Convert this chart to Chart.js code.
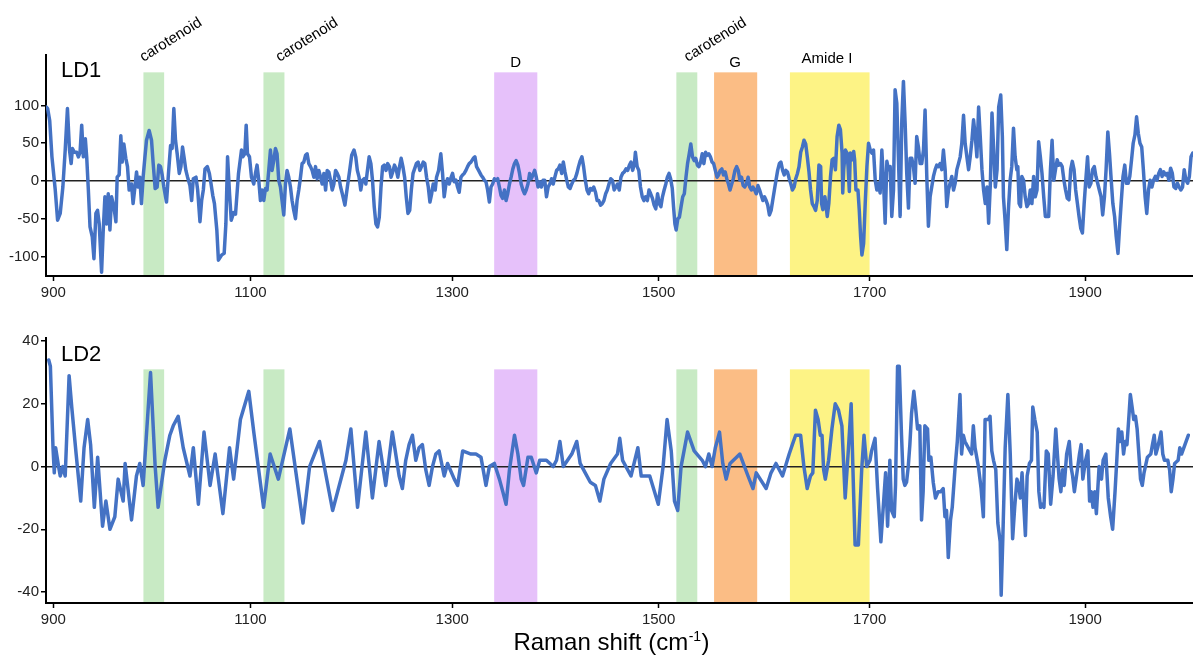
<!DOCTYPE html>
<html lang="en">
<head>
    <meta charset="UTF-8">
    <title>LD1 / LD2 loadings</title>
    <script src="https://cdn.jsdelivr.net/npm/chart.js"></script>
    <style>
        body { margin: 0; background: #fff; }
        .panel { position: absolute; left: 0; width: 1193px; }
        #ld1-panel { top: 0; height: 300px; }
        #ld2-panel { top: 300px; height: 357px; }
    </style>
</head>
<body>
    <div class="panel" id="ld1-panel"><canvas id="ld1-chart" width="1193" height="300"></canvas></div>
    <div class="panel" id="ld2-panel"><canvas id="ld2-chart" width="1193" height="357"></canvas></div>

    <script>
        // Raman shift (cm-1) / loading pairs
        const ld1Points = [[892.9,98],[894.2,96],[896.3,80],[898.6,32],[902.0,-12],[904.4,-52],[907.1,-43],[909.8,-8],[912.2,41],[914.5,96],[916.6,41],[918.3,23],[919.6,43],[921.7,38],[924.0,38],[925.7,32],[927.4,38],[929.1,74],[930.8,32],[932.8,56],[934.2,32],[935.9,-12],[937.6,-61],[939.9,-74],[941.6,-103],[943.6,-43],[945.3,-39],[947.0,-57],[949.4,-121],[951.1,-65],[952.8,-21],[954.5,-57],[956.2,-17],[957.9,-65],[959.6,-21],[961.9,-34],[964.0,-54],[965.3,5],[967.3,8],[969.0,60],[970.4,25],[972.1,49],[974.1,30],[975.8,19],[977.5,-12],[979.9,-4],[981.5,-30],[983.2,-10],[985.0,12],[986.6,-8],[988.3,5],[990.0,-30],[991.7,5],[993.4,30],[995.1,54],[997.8,67],[1000.2,54],[1001.9,23],[1003.9,-10],[1005.9,-8],[1007.6,21],[1009.3,19],[1011.0,8],[1012.7,-8],[1015.4,-28],[1017.4,10],[1019.5,47],[1021.1,43],[1022.8,96],[1024.5,54],[1026.2,36],[1028.3,10],[1030.0,19],[1031.6,45],[1033.3,30],[1035.0,14],[1036.7,5],[1039.1,-6],[1040.8,-26],[1042.5,3],[1045.2,5],[1046.9,-12],[1049.2,-54],[1050.9,-26],[1052.6,-12],[1054.3,16],[1056.7,19],[1058.7,10],[1060.4,-4],[1062.1,-19],[1063.8,-30],[1066.2,-65],[1067.8,-105],[1071.2,-98],[1073.6,-96],[1075.3,-57],[1077.0,32],[1079.0,-17],[1080.7,-52],[1083.1,-42],[1085.0,-44],[1088.0,10],[1091.0,41],[1092.3,32],[1094.3,36],[1095.7,74],[1097.0,36],[1099.0,32],[1101.0,5],[1103.3,-4],[1105.0,10],[1106.6,21],[1108.3,1],[1110.0,-26],[1111.6,-12],[1113.3,-26],[1115.0,-10],[1116.6,-12],[1118.3,14],[1120.0,41],[1121.6,14],[1123.3,27],[1125.0,43],[1126.6,36],[1128.3,1],[1130.0,-8],[1131.6,-26],[1133.3,-45],[1135.0,-4],[1136.6,14],[1138.3,5],[1140.0,-8],[1141.6,-26],[1143.3,-39],[1145.0,-50],[1146.6,-26],[1148.3,-12],[1150.0,5],[1151.6,23],[1153.3,25],[1155.0,34],[1156.6,36],[1158.3,23],[1160.0,19],[1161.6,14],[1163.3,5],[1165.0,19],[1166.6,3],[1168.3,14],[1170.0,5],[1171.6,-4],[1173.3,10],[1175.0,-12],[1176.6,14],[1178.2,12],[1179.9,1],[1181.6,-12],[1183.2,-4],[1184.9,14],[1186.6,10],[1188.2,5],[1189.9,-8],[1191.6,-17],[1194.2,-32],[1196.6,-8],[1198.9,14],[1200.9,34],[1203.2,41],[1204.9,32],[1206.5,14],[1208.2,5],[1209.9,-12],[1211.5,1],[1213.2,3],[1214.9,-4],[1216.5,14],[1218.2,32],[1219.9,23],[1221.5,1],[1223.2,-34],[1224.9,-57],[1226.5,-61],[1228.2,-48],[1229.9,-8],[1231.5,19],[1233.2,21],[1234.9,14],[1236.5,23],[1238.2,19],[1239.8,5],[1241.5,12],[1243.2,21],[1244.8,16],[1246.5,5],[1248.2,19],[1249.8,30],[1251.5,19],[1253.2,5],[1254.8,-21],[1256.5,-43],[1258.2,-39],[1259.8,-12],[1261.5,10],[1264.8,23],[1266.5,25],[1268.2,14],[1269.8,19],[1271.5,25],[1273.1,23],[1274.8,5],[1276.5,-8],[1278.1,-28],[1279.8,-17],[1281.3,-4],[1283.3,-12],[1284.6,5],[1286.6,14],[1288.8,36],[1290.5,10],[1292.1,-21],[1293.8,-4],[1295.4,3],[1297.0,-4],[1298.7,4],[1300.3,10],[1301.9,-1],[1303.6,1],[1305.2,-8],[1306.8,-15],[1308.5,5],[1310.1,8],[1311.7,10],[1313.4,14],[1315.0,19],[1316.6,23],[1318.3,25],[1320.6,30],[1322.2,32],[1323.8,19],[1325.8,14],[1328.1,8],[1329.7,5],[1331.4,1],[1333.0,-1],[1334.6,-12],[1336.3,-28],[1337.9,-8],[1339.5,-4],[1341.2,3],[1342.8,1],[1344.4,3],[1346.1,-8],[1347.7,-19],[1349.3,-23],[1351.0,-12],[1352.6,-26],[1354.2,-17],[1355.9,-4],[1357.5,5],[1359.2,16],[1360.8,23],[1362.4,27],[1364.1,21],[1365.7,10],[1367.3,-4],[1369.0,-12],[1370.6,-17],[1372.2,-12],[1373.9,-4],[1375.5,10],[1377.1,3],[1378.8,8],[1380.4,14],[1382.0,5],[1383.7,-8],[1385.3,-1],[1386.9,-8],[1388.6,1],[1390.2,1],[1391.9,-21],[1393.5,-8],[1395.1,-4],[1396.8,3],[1398.4,-4],[1400.0,5],[1401.7,14],[1403.3,16],[1404.9,21],[1406.6,10],[1408.2,25],[1409.8,12],[1411.5,1],[1413.1,-8],[1414.7,-10],[1416.4,-4],[1418.0,1],[1419.6,3],[1421.3,10],[1422.9,19],[1424.6,27],[1426.2,32],[1427.8,19],[1429.5,1],[1431.1,-12],[1432.7,-17],[1434.4,-10],[1436.0,-12],[1437.6,-8],[1439.3,-15],[1440.9,-26],[1442.5,-26],[1444.2,-32],[1445.8,-30],[1447.4,-26],[1449.1,-17],[1450.7,-12],[1452.3,-4],[1454.0,3],[1455.6,1],[1457.3,-12],[1458.9,-8],[1460.5,-4],[1462.2,-12],[1463.8,5],[1465.4,10],[1467.1,12],[1468.7,16],[1470.3,14],[1472.0,21],[1473.5,25],[1475.1,14],[1476.8,23],[1477.7,38],[1479.4,19],[1481.0,14],[1482.6,-8],[1484.3,-21],[1485.9,-26],[1487.5,-21],[1489.2,-26],[1490.8,-12],[1492.4,-17],[1494.1,-23],[1495.7,-32],[1497.3,-37],[1499.0,-17],[1500.6,-30],[1502.2,-34],[1503.7,-21],[1505.3,-12],[1506.9,-4],[1508.4,5],[1510.0,10],[1511.5,3],[1513.1,-10],[1514.3,-34],[1515.6,-57],[1516.8,-65],[1518.4,-50],[1519.9,-48],[1521.5,-34],[1523.1,-21],[1524.6,-17],[1526.2,5],[1527.7,23],[1529.3,36],[1530.8,49],[1532.4,32],[1534.0,27],[1535.5,30],[1537.1,21],[1538.6,19],[1540.2,25],[1541.7,36],[1543.3,23],[1544.9,38],[1546.4,34],[1548.0,36],[1549.5,32],[1551.1,25],[1552.6,23],[1554.2,14],[1555.8,5],[1557.3,8],[1558.9,14],[1560.4,16],[1562.0,8],[1563.6,12],[1565.1,3],[1566.7,-4],[1568.2,-12],[1569.8,-4],[1571.3,3],[1572.9,14],[1574.5,19],[1576.0,14],[1577.6,1],[1579.1,5],[1580.7,-6],[1582.2,-8],[1583.8,-4],[1585.4,5],[1586.9,-8],[1588.5,-12],[1590.0,-8],[1591.6,-12],[1593.1,-17],[1594.7,-6],[1596.3,-12],[1597.8,-19],[1599.4,-26],[1600.9,-21],[1602.5,-26],[1604.0,-32],[1605.6,-45],[1607.2,-39],[1608.7,-26],[1610.3,-12],[1611.8,1],[1613.4,14],[1615.0,23],[1616.5,25],[1618.1,14],[1619.6,8],[1621.2,14],[1622.7,12],[1624.3,3],[1625.9,-4],[1627.4,-12],[1629.0,-8],[1630.5,3],[1632.1,10],[1633.6,19],[1635.2,38],[1636.8,45],[1638.3,54],[1639.9,49],[1641.4,32],[1643.0,12],[1644.5,-12],[1646.1,-30],[1647.7,-34],[1649.2,-39],[1650.8,-26],[1652.4,21],[1654.0,19],[1654.9,-30],[1656.1,-38],[1658.0,-21],[1659.2,-34],[1660.2,-47],[1661.7,-30],[1663.3,6],[1664.8,28],[1666.4,30],[1667.9,15],[1669.5,59],[1671.1,74],[1672.6,68],[1674.2,37],[1674.8,-16],[1675.7,15],[1677.3,41],[1678.8,37],[1679.8,19],[1681.0,-14],[1681.9,37],[1683.5,28],[1685.1,39],[1686.0,28],[1687.2,-12],[1689.1,-12],[1690.3,-38],[1691.6,-74],[1692.8,-98],[1694.4,-83],[1695.9,-30],[1697.5,19],[1699.0,50],[1700.6,41],[1702.2,37],[1703.7,41],[1705.3,1],[1706.8,-12],[1708.4,-3],[1709.9,-16],[1711.5,41],[1713.0,1],[1714.6,-56],[1716.2,26],[1717.7,15],[1719.3,19],[1720.8,-47],[1722.4,-12],[1723.9,121],[1725.5,103],[1727.0,32],[1728.6,-47],[1730.2,81],[1731.7,132],[1733.3,76],[1734.8,10],[1736.4,-36],[1737.9,30],[1739.5,30],[1741.0,19],[1742.6,-3],[1744.1,59],[1745.7,45],[1747.3,23],[1748.8,23],[1750.4,41],[1751.9,94],[1753.5,6],[1755.0,-60],[1756.6,-21],[1758.1,-8],[1759.7,6],[1761.3,15],[1762.8,21],[1764.4,19],[1765.9,23],[1767.5,15],[1769.0,41],[1770.6,15],[1772.1,-34],[1773.7,-12],[1775.2,-3],[1776.8,6],[1778.4,-12],[1779.9,-3],[1781.5,15],[1783.0,23],[1784.6,32],[1786.1,50],[1787.7,87],[1789.2,50],[1790.8,32],[1792.4,15],[1793.9,32],[1795.5,54],[1797.0,81],[1798.6,59],[1800.1,32],[1801.7,98],[1803.2,59],[1804.8,15],[1806.3,-12],[1807.9,-30],[1809.5,-8],[1811.0,-56],[1812.6,-3],[1814.1,90],[1815.7,41],[1817.2,-8],[1818.8,15],[1820.3,98],[1822.2,114],[1823.7,59],[1824.7,-21],[1826.2,-52],[1827.8,-91],[1829.3,-38],[1830.9,1],[1832.4,19],[1834.0,70],[1835.5,32],[1837.1,15],[1838.0,19],[1839.2,-30],[1840.5,-34],[1841.7,6],[1843.3,1],[1844.8,-21],[1846.4,-34],[1847.9,-30],[1849.5,-12],[1851.0,-30],[1852.6,6],[1854.1,-21],[1855.7,-12],[1857.2,52],[1858.8,32],[1860.3,10],[1861.9,-21],[1863.4,-47],[1865.0,-47],[1866.5,-47],[1868.1,15],[1869.6,54],[1871.2,1],[1872.7,15],[1874.3,28],[1875.8,21],[1877.4,23],[1878.9,19],[1880.5,1],[1882.0,-12],[1883.6,-23],[1885.1,-25],[1886.7,15],[1888.2,26],[1889.8,15],[1891.3,-12],[1892.9,-30],[1894.4,-47],[1896.0,-63],[1897.5,-69],[1899.1,-30],[1900.6,1],[1902.2,32],[1903.7,-8],[1905.3,-3],[1906.8,15],[1908.4,19],[1909.9,6],[1911.5,-3],[1913.0,-12],[1914.6,-21],[1916.1,-45],[1917.7,-21],[1919.2,15],[1920.8,65],[1922.3,37],[1923.9,1],[1925.4,-30],[1927.0,-47],[1928.5,-74],[1930.1,-96],[1931.6,-60],[1933.2,-25],[1934.7,6],[1936.3,21],[1937.8,-3],[1939.4,-3],[1940.9,6],[1942.5,28],[1944.0,50],[1945.6,61],[1947.1,85],[1948.7,63],[1950.2,50],[1951.8,45],[1953.3,15],[1954.9,-21],[1956.4,-43],[1958.0,-12],[1959.5,1],[1961.1,-8],[1962.6,1],[1964.2,6],[1965.7,1],[1967.3,10],[1968.8,15],[1970.4,6],[1971.9,12],[1973.5,8],[1975.0,10],[1976.6,1],[1978.1,17],[1979.7,10],[1981.2,-8],[1982.8,-10],[1984.3,-3],[1985.9,-8],[1987.4,-12],[1989.0,-8],[1990.5,15],[1992.1,1],[1993.6,-3],[1995.2,6],[1996.7,32],[1998.3,37]];

        const ld2Points = [[895.3,34],[897.0,32],[899.7,6],[901.0,-2],[902.4,6],[905.4,0],[907.1,-3],[909.8,0],[912.2,-3],[916.2,29],[918.9,19],[923.4,4],[928.1,-11],[931.5,6],[935.2,15],[938.2,7],[942.0,-13],[945.4,3],[950.4,-19],[953.8,-11],[957.9,-20],[962.9,-16],[966.3,-4],[971.4,-11],[973.4,1],[979.9,-17],[984.9,-3],[988.3,1],[991.7,-6],[999.2,30],[1003.9,0],[1006.9,-13],[1013.7,2],[1018.8,10],[1022.2,13],[1027.2,16],[1032.3,6],[1039.1,-3],[1042.5,6],[1047.6,-12],[1053.3,11],[1059.4,-6],[1064.5,4],[1072.3,-15],[1079.0,6],[1083.1,-4],[1089.9,15],[1098.3,24],[1103.3,11],[1113.1,-13],[1119.7,4],[1127.9,-4],[1139.4,12],[1152.5,-18],[1159.1,0],[1169.0,8],[1182.0,-14],[1195.2,2],[1200.1,12],[1206.7,-13],[1214.9,11],[1221.4,-10],[1228.0,8],[1234.6,-6],[1241.1,11],[1247.8,-3],[1251.0,-7],[1254.3,2],[1257.6,7],[1260.9,10],[1264.2,2],[1267.4,6],[1270.7,7],[1274.0,-1],[1277.3,-6],[1280.6,0],[1283.9,4],[1287.1,5],[1292.1,-3],[1295.4,1],[1302.0,-4],[1305.3,-6],[1310.2,5],[1318.3,4],[1323.2,4],[1328.1,3],[1333.0,-6],[1336.3,0],[1341.2,1],[1346.1,-4],[1349.4,-8],[1352.6,-12],[1355.9,-1],[1360.8,10],[1364.1,4],[1367.3,-4],[1369.6,-6],[1373.9,3],[1377.1,3],[1382.0,-2],[1385.3,2],[1391.8,2],[1398.4,0],[1401.6,2],[1404.9,8],[1408.2,0],[1416.4,4],[1421.2,8],[1424.5,1],[1429.4,-2],[1434.3,-5],[1439.2,-6],[1443.5,-11],[1447.4,-4],[1453.9,1],[1460.5,4],[1462.7,9],[1465.4,2],[1473.5,-3],[1480.1,6],[1483.3,-3],[1491.5,-3],[1499.7,-12],[1504.3,0],[1508.1,15],[1512.1,5],[1515.2,-11],[1518.3,-14],[1521.5,0],[1527.7,11],[1534.0,5],[1541.7,2],[1544.8,0],[1548.0,4],[1551.1,0],[1554.2,6],[1558.2,11],[1561.3,1],[1564.5,-4],[1568.2,1],[1574.4,3],[1577.5,4],[1585.3,-3],[1590.0,-7],[1593.1,-2],[1602.5,-7],[1607.1,-2],[1611.8,1],[1618.0,-3],[1624.3,4],[1627.3,7],[1630.4,10],[1635.1,10],[1638.2,0],[1641.3,-7],[1644.4,-3],[1646.6,-2],[1649.1,18],[1651.6,15],[1653.7,10],[1655.3,10],[1656.8,-1],[1658.4,-4],[1661.5,2],[1664.6,12],[1667.7,20],[1670.8,18],[1674.0,13],[1677.1,-10],[1680.2,6],[1682.7,20],[1684.8,-6],[1686.4,-25],[1689.5,-25],[1692.6,-1],[1694.8,10],[1697.3,0],[1700.4,2],[1701.9,5],[1705.1,9],[1707.5,-7],[1709.7,-19],[1710.6,-24],[1712.8,-13],[1715.0,-2],[1716.9,-19],[1719.0,2],[1720.6,-14],[1723.1,-16],[1724.3,-6],[1726.2,32],[1727.8,32],[1729.9,10],[1731.5,-4],[1733.0,-6],[1734.6,-5],[1736.2,0],[1737.7,7],[1739.3,17],[1741.4,24],[1743.0,19],[1744.9,12],[1747.0,13],[1748.6,-17],[1750.1,-8],[1751.7,13],[1754.2,12],[1755.4,2],[1757.3,3],[1759.5,-5],[1761.6,-10],[1764.1,-8],[1766.6,-8],[1768.8,-7],[1770.4,-16],[1771.9,-14],[1773.5,-29],[1775.6,-17],[1777.2,-13],[1779.7,-1],[1781.9,8],[1784.4,23],[1785.9,4],[1787.5,10],[1789.0,8],[1792.1,6],[1795.2,4],[1796.8,13],[1798.4,6],[1801.5,0],[1804.0,-7],[1806.1,-16],[1807.7,15],[1810.8,15],[1812.3,16],[1813.9,5],[1815.5,2],[1817.6,-1],[1819.5,-18],[1821.7,-24],[1822.6,-41],[1824.2,-22],[1826.3,6],[1828.8,23],[1831.0,4],[1833.2,-23],[1835.1,-13],[1837.2,-4],[1838.8,-6],[1840.3,-10],[1841.9,-2],[1845.0,-22],[1846.6,-3],[1848.7,1],[1850.6,2],[1851.8,19],[1853.7,15],[1855.9,11],[1857.4,-8],[1859.0,-13],[1860.5,-12],[1862.1,-13],[1864.3,5],[1866.1,4],[1868.3,-12],[1870.5,-3],[1873.0,12],[1874.5,4],[1876.1,-4],[1877.7,-8],[1879.2,-1],[1880.8,-6],[1883.0,4],[1885.4,8],[1887.0,0],[1888.5,-3],[1890.1,-8],[1891.7,-4],[1894.8,4],[1896.3,7],[1897.9,-4],[1900.4,2],[1902.5,5],[1904.1,-11],[1905.6,-8],[1907.2,-13],[1908.8,-8],[1910.3,-15],[1912.8,0],[1915.0,-4],[1916.5,2],[1919.0,4],[1921.2,-10],[1923.4,-16],[1925.2,-20],[1927.4,-8],[1929.0,2],[1930.5,12],[1932.1,8],[1933.6,11],[1935.2,4],[1936.7,8],[1938.3,7],[1939.9,15],[1941.4,23],[1943.0,19],[1944.5,15],[1946.1,16],[1947.6,12],[1949.2,4],[1950.7,-4],[1952.3,-6],[1953.9,-2],[1957.0,3],[1960.1,4],[1961.6,7],[1963.2,10],[1964.7,4],[1966.3,6],[1969.4,11],[1971.0,4],[1972.5,2],[1975.6,2],[1977.2,-1],[1978.7,-8],[1980.3,-4],[1981.8,1],[1985.0,2],[1986.5,6],[1988.1,4],[1991.2,7],[1994.3,10]];

        const xTicks = [900, 1100, 1300, 1500, 1700, 1900];
        const ld1Ticks = [-100, -50, 0, 50, 100];
        const ld2Ticks = [-40, -20, 0, 20, 40];

        // marked regions (cm-1)
        const bandLabels = ['carotenoid', 'carotenoid', 'D', 'carotenoid', 'G', 'Amide I'];
        const bandFrom = [992, 1113, 1341, 1517, 1553, 1625];
        const bandTo = [1013, 1134, 1383, 1537, 1594, 1700];
        const bandColors = ['#c8eac4', '#c8eac4', '#e6c1fa', '#c8eac4', '#fbbd85', '#fdf385'];
        // where each label sits, in cm-1
        const bandLabelAt = [992, 1129, 1362, 1528, 1573, 1660];

        const FONT = "'Liberation Sans', Arial, sans-serif";
        Chart.defaults.font.family = FONT;
        Chart.defaults.color = '#222';

        // the spectrum was plotted against point index, so the cm-1 axis stretches slightly towards high shifts
        class RamanScale extends Chart.LinearScale {
            static id = 'raman';
            static defaults = Chart.LinearScale.defaults;

            warp(v) {
                const t = (v - 900) / 200;
                return t + 0.0118 * t * t;
            }
            getPixelForValue(value) {
                const a = this.warp(this.min), b = this.warp(this.max);
                return this.getPixelForDecimal((this.warp(value) - a) / (b - a));
            }
            getValueForPixel(pixel) {
                const a = this.warp(this.min), b = this.warp(this.max);
                const u = a + this.getDecimalForPixel(pixel) * (b - a);
                const t = (-1 + Math.sqrt(1 + 4 * 0.0118 * u)) / (2 * 0.0118);
                return 900 + 200 * t;
            }
        }
        Chart.register(RamanScale);

        const bandsPlugin = {
            id: 'bands',
            beforeDraw(chart, args, opts) {
                const { ctx, chartArea, scales } = chart;
                const top = scales.y.getPixelForValue(opts.top);
                ctx.save();
                bandFrom.forEach((from, i) => {
                    const x1 = scales.x.getPixelForValue(from);
                    const x2 = scales.x.getPixelForValue(bandTo[i]);
                    ctx.fillStyle = bandColors[i];
                    ctx.fillRect(x1, top, x2 - x1, chartArea.bottom - top);
                });
                ctx.restore();
            }
        };

        const textPlugin = {
            id: 'panelText',
            afterDraw(chart, args, opts) {
                const { ctx, scales } = chart;
                ctx.save();
                ctx.fillStyle = '#000';
                ctx.font = '22px ' + FONT;
                ctx.textAlign = 'left';
                ctx.textBaseline = 'alphabetic';
                ctx.fillText(opts.title, 61, opts.titleY);

                if (opts.bandText) {
                    ctx.font = '15px ' + FONT;
                    bandLabels.forEach((label, i) => {
                        const x = scales.x.getPixelForValue(bandLabelAt[i]);
                        if (label === 'carotenoid') {
                            ctx.save();
                            ctx.translate(x, 62);
                            ctx.rotate(-32 * Math.PI / 180);
                            ctx.textAlign = 'left';
                            ctx.fillText(label, 0, 0);
                            ctx.restore();
                        } else {
                            ctx.textAlign = 'center';
                            ctx.fillText(label, x, label === 'Amide I' ? 63 : 67);
                        }
                    });
                }

                if (opts.axisTitle) {
                    const main = 'Raman shift (cm', sup = '-1', tail = ')';
                    ctx.font = '24px ' + FONT;
                    const w1 = ctx.measureText(main).width, w3 = ctx.measureText(tail).width;
                    ctx.font = '14px ' + FONT;
                    const w2 = ctx.measureText(sup).width;
                    let x = 611 - (w1 + w2 + w3) / 2;
                    const y = 350;
                    ctx.textAlign = 'left';
                    ctx.font = '24px ' + FONT;
                    ctx.fillText(main, x, y);
                    x += w1;
                    ctx.font = '14px ' + FONT;
                    ctx.fillText(sup, x + 0.5, y - 9);
                    x += w2 + 1;
                    ctx.font = '24px ' + FONT;
                    ctx.fillText(tail, x, y);
                }
                ctx.restore();
            }
        };

        function makePanel(canvasId, points, yMin, yMax, yTicks, topPad, xAxisHeight, text, bandTop) {
            return new Chart(document.getElementById(canvasId), {
                type: 'line',
                data: {
                    datasets: [{
                        data: points.map(([x, y]) => ({ x, y })),
                        borderColor: '#4472c4',
                        borderWidth: 3.5,
                        pointRadius: 0,
                        tension: 0,
                        borderJoinStyle: 'round',
                        borderCapStyle: 'round'
                    }]
                },
                options: {
                    responsive: false,
                    animation: false,
                    devicePixelRatio: 1,
                    layout: { padding: { top: topPad, left: 0, right: 0, bottom: 0 } },
                    plugins: {
                        legend: { display: false },
                        tooltip: { enabled: false },
                        bands: { top: bandTop },
                        panelText: text
                    },
                    scales: {
                        x: {
                            type: 'raman',
                            min: 892.5,
                            max: 1998.5,
                            afterBuildTicks: s => { s.ticks = xTicks.map(v => ({ value: v })); },
                            afterFit: s => { s.height = xAxisHeight; },
                            border: { color: '#000', width: 2 },
                            grid: { drawOnChartArea: false, tickLength: 5, tickColor: '#000', tickWidth: 1.5 },
                            ticks: { font: { size: 15 }, padding: 3, maxRotation: 0, autoSkip: false, callback: v => String(v) }
                        },
                        y: {
                            min: yMin,
                            max: yMax,
                            afterBuildTicks: s => { s.ticks = yTicks.map(v => ({ value: v })); },
                            afterFit: s => { s.width = 46; },
                            border: { color: '#000', width: 2 },
                            grid: {
                                color: c => (c.tick && c.tick.value === 0 ? '#222' : 'rgba(0,0,0,0)'),
                                lineWidth: 1.5,
                                tickColor: '#000',
                                tickLength: 5,
                                tickWidth: 1.5
                            },
                            ticks: { font: { size: 15 }, padding: 2, callback: v => String(v) }
                        }
                    }
                },
                plugins: [bandsPlugin, textPlugin]
            });
        }

        makePanel('ld1-chart', ld1Points, -126, 167, ld1Ticks, 55, 24,
            { title: 'LD1', titleY: 77, bandText: true }, 144);
        makePanel('ld2-chart', ld2Points, -43.5, 41, ld2Ticks, 38, 54,
            { title: 'LD2', titleY: 61, axisTitle: true }, 31);
    </script>
</body>
</html>
